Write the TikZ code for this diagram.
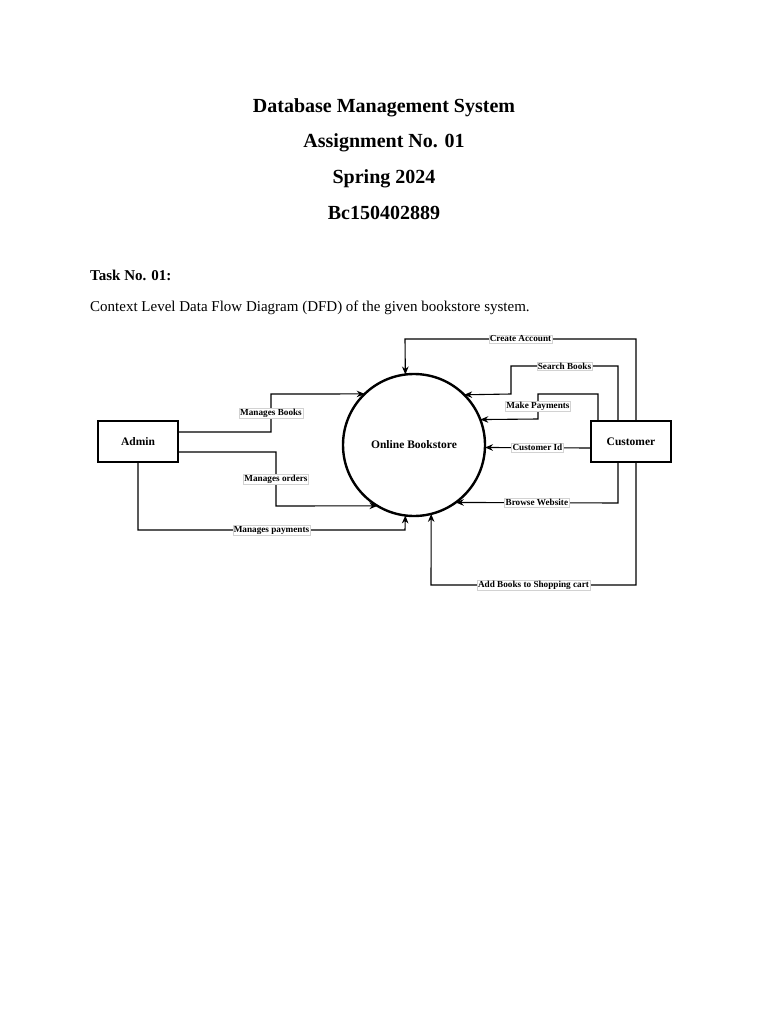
\documentclass[tikz,border=0pt]{standalone}
\usepackage{fontspec}
\setmainfont{Liberation Serif}
\usetikzlibrary{arrows.meta,calc}
\begin{document}
\begin{tikzpicture}[x=1pt,y=-1pt,
  title/.style={font=\fontsize{20}{24}\selectfont\bfseries, anchor=base, inner sep=0pt},
  entity/.style={draw, line width=2.2pt, minimum width=80pt, minimum height=41pt, inner sep=0pt, font=\fontsize{11.5}{13}\selectfont\bfseries},
  process/.style={draw, circle, line width=2.4pt, minimum size=142pt, inner sep=0pt, outer sep=0pt, font=\fontsize{11.5}{13}\selectfont\bfseries},
  flow/.style={line width=1.1pt, -{Stealth[length=8pt,width=6.5pt]}},
  lbl/.style={draw=gray!35, line width=0.4pt, fill=white, inner sep=1pt, font=\fontsize{9.2}{10}\selectfont\bfseries}
]
\useasboundingbox[fill=white] (0,0) rectangle (768,1024);

\node[title] (t1) at (384,112.5) {Database Management System};
\node[title] (t2) at (384,148) {Assignment No. 01};
\node[title] (t3) at (384,184) {Spring 2024};
\node[title] (t4) at (384,220) {Bc150402889};
\node[anchor=base west, inner sep=0pt, font=\fontsize{15}{17}\selectfont\bfseries] (task) at (90,280) {Task No. 01:};
\node[anchor=base west, inner sep=0pt, font=\fontsize{15}{17}\selectfont] (ctx) at (90,311) {Context Level Data Flow Diagram (DFD) of the given bookstore system.};

\node[entity] (admin) at (138,441.5) {Admin};
\node[entity] (cust) at (631,441.5) {Customer};
\node[process] (c) at (414,445) {Online Bookstore};

% bends
\coordinate (ca1) at (636,339);
\coordinate (ca2) at (405,339);
\coordinate (sb1) at (618,366);
\coordinate (sb2) at (511,366);
\coordinate (sb3) at (511,394);
\coordinate (mp1) at (598,394);
\coordinate (mp2) at (538,394);
\coordinate (mp3) at (538,419);
\coordinate (bw1) at (618,503);
\coordinate (ab1) at (636,585);
\coordinate (ab2) at (431,585);
\coordinate (mb1) at (271,432);
\coordinate (mb2) at (271,394);
\coordinate (mo1) at (276,452);
\coordinate (mo2) at (276,506);
\coordinate (mpa1) at (138,530);
\coordinate (mpa2) at (405,530);

% customer flows
\draw[flow] ([xshift=5pt]cust.north) -- (ca1) -- node[lbl]{Create Account} (ca2) -- (c.97.3);
\draw[flow] ([xshift=-13pt]cust.north) -- (sb1) -- node[lbl]{Search Books} (sb2) -- (sb3) -- (c.45.9);
\draw[flow] ([xshift=-33pt]cust.north) -- (mp1) -- (mp2) -- node[lbl]{Make Payments} (mp3) -- (c.21.5);
\draw[flow] ([yshift=-6.5pt]cust.west) -- node[lbl]{Customer Id} (c.-2.4);
\draw[flow] ([xshift=-13pt]cust.south) -- (bw1) -- node[lbl]{Browse Website} (c.-54.8);
\draw[flow] ([xshift=5pt]cust.south) -- (ab1) -- node[lbl]{Add Books to Shopping cart} (ab2) -- (c.-76.1);

% admin flows
\draw[flow] ([yshift=9.5pt]admin.east) -- (mb1) -- node[lbl]{Manages Books} (mb2) -- (c.134.1);
\draw[flow] ([yshift=-10.5pt]admin.east) -- (mo1) -- node[lbl]{Manages orders} (mo2) -- (c.239.2);
\draw[flow] (admin.south) -- (mpa1) -- node[lbl]{Manages payments} (mpa2) -- (c.-97.3);
\end{tikzpicture}
\end{document}
